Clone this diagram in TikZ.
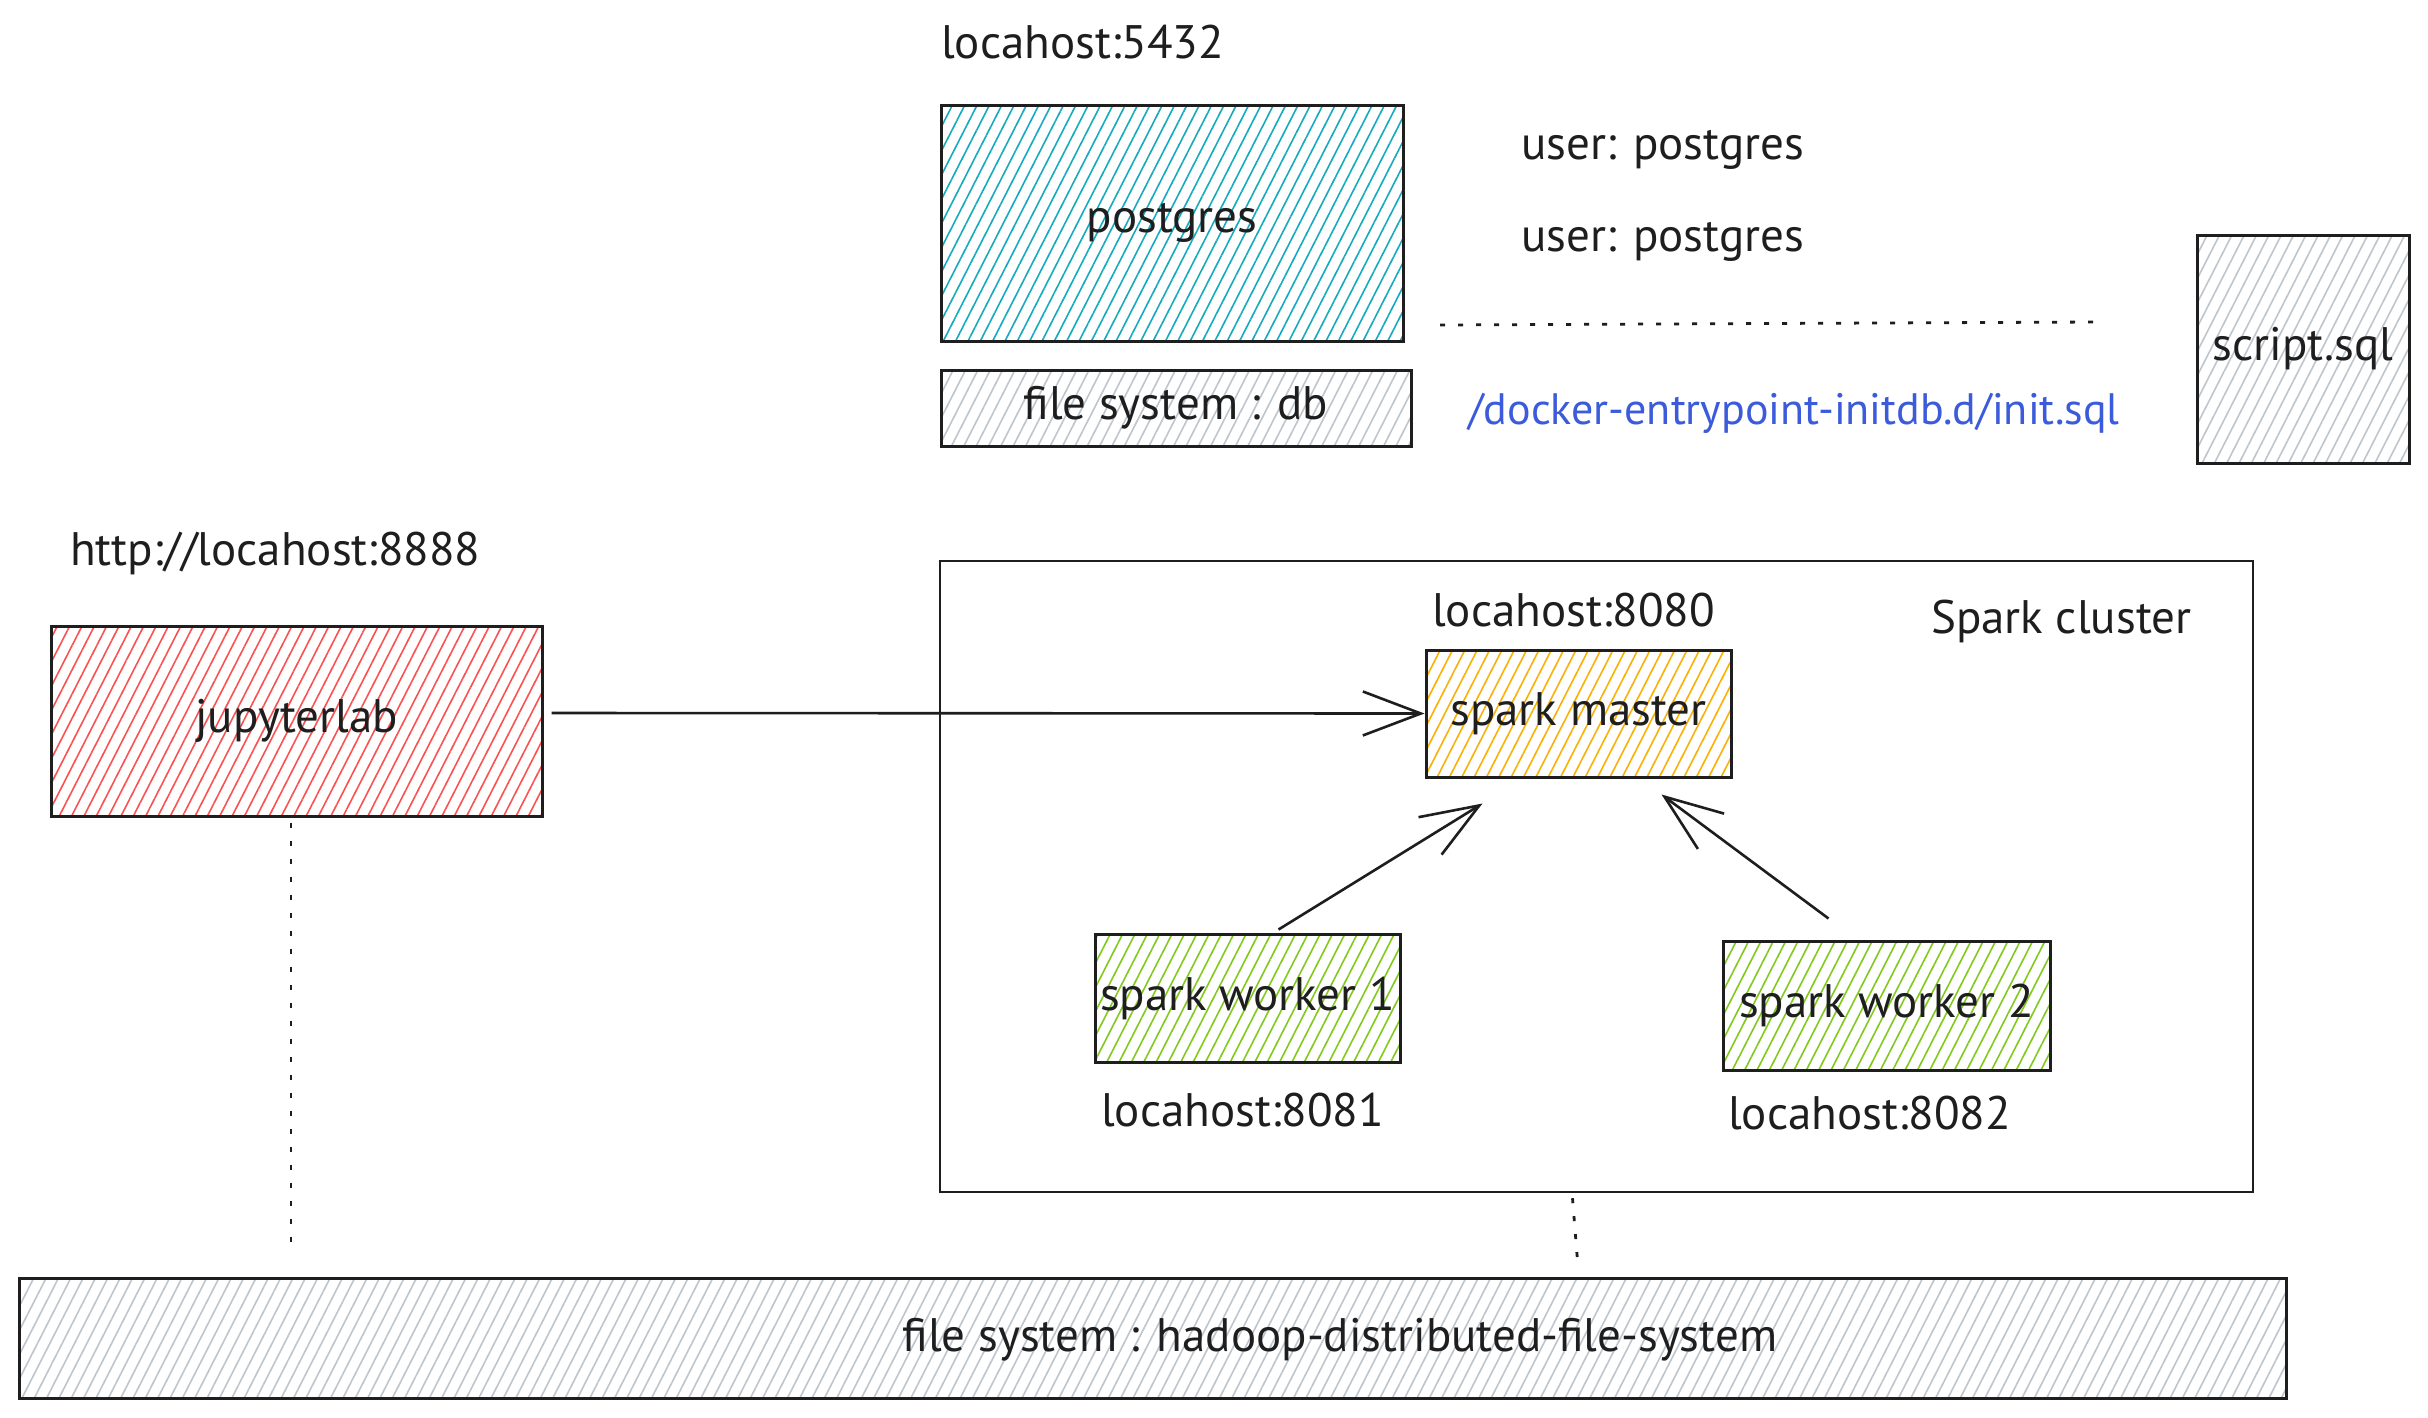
\documentclass[tikz,border=0pt]{standalone}
\usepackage{fontspec}
\setmainfont{PT Sans}
\usetikzlibrary{arrows.meta,patterns.meta}
\definecolor{inkc}{HTML}{1E1E1E}
\definecolor{cyanH}{HTML}{15AABF}
\definecolor{redH}{HTML}{FA5252}
\definecolor{orangeH}{HTML}{FAB005}
\definecolor{greenH}{HTML}{82C91E}
\definecolor{greyH}{HTML}{BFC5CC}
\definecolor{blueT}{HTML}{3B5BDB}
\tikzset{
  hach/.style={pattern={Lines[angle=63,distance=11pt,line width=1.6pt]},pattern color=#1},
  box/.style={draw=inkc,line width=3pt,rectangle,inner sep=0pt,align=center,text=inkc},
  lbl/.style={anchor=west,inner sep=0pt,text=inkc},
  arr/.style={draw=inkc,line width=2.6pt,-{Straight Barb[length=58pt,width=44pt,line width=2.6pt]}},
  dots/.style={draw=inkc,line width=2.8pt,dash pattern=on 5pt off 13pt},
}
\begin{document}
\begin{tikzpicture}[x=1pt,y=-1pt,font=\fontsize{47pt}{52pt}\selectfont]
\useasboundingbox[fill=white] (0,0) rectangle (2428,1417);
% top: postgres
\node[lbl] (l5432) at (941,42) {locahost:5432};
\node[box,hach=cyanH,minimum width=462pt,minimum height=236pt] (pg) at (1172,223) {postgres};
\node[box,hach=greyH,minimum width=470pt,minimum height=76pt] (fsdb) at (1176,408) {file system : db};
\node[lbl] (u1) at (1521,150) {user: postgres};
\node[lbl] (u2) at (1521,242) {user: postgres};
\coordinate (d1a) at (1440,325);
\coordinate (d1b) at (2094,322);
\draw[dots] (d1a) -- (d1b);
\node[lbl,text=blueT,font=\fontsize{44pt}{50pt}\selectfont] (dock) at (1468,413) {/docker-entrypoint-initdb.d/init.sql};
\node[box,hach=greyH,minimum width=212pt,minimum height=228pt] (script) at (2303,349) {script.sql};
% jupyter
\node[lbl] (l8888) at (70,553) {http://locahost:8888};
\node[box,hach=redH,minimum width=491pt,minimum height=190pt] (jup) at (296.5,721) {jupyterlab};
% spark cluster
\node[draw=inkc,line width=2.4pt,rectangle,minimum width=1313pt,minimum height=631pt] (frame) at (1596.5,876.5) {};
\node[lbl] (l8080) at (1432,610) {locahost:8080};
\node[lbl] (clus) at (1931,621) {Spark cluster};
\node[box,hach=orangeH,minimum width=305pt,minimum height=127pt] (master) at (1578.5,713.5) {spark master};
\node[box,hach=greenH,minimum width=305pt,minimum height=128pt] (w1) at (1247.5,998) {spark worker 1};
\node[lbl] (l8081) at (1101,1110) {locahost:8081};
\node[box,hach=greenH,minimum width=327pt,minimum height=129pt] (w2) at (1886.5,1005.5) {spark worker 2};
\node[lbl] (l8082) at (1728,1113) {locahost:8082};
% hdfs
\node[box,hach=greyH,minimum width=2267pt,minimum height=120pt] (hdfs) at (1152.5,1338) {};
\node[inner sep=0pt,text=inkc] (hdfsT) at (1340,1340) {file system : hadoop-distributed-file-system};
% connectors
\draw[arr] ([xshift=8pt,yshift=8pt]jup.east) -- (master.west);
\draw[arr] ([xshift=31pt,yshift=3pt]w1.north) -- ([xshift=-96pt,yshift=-25pt]master.south);
\draw[arr] ([xshift=-58pt,yshift=21pt]w2.north) -- ([xshift=83pt,yshift=-16pt]master.south);
\coordinate (jd) at (291,1251);
\draw[dots] ([yshift=-5pt]jup.south -| jd) -- (jd);
\coordinate (cd) at (1578,1267);
\draw[dots] ([xshift=-24pt,yshift=-5pt]frame.south) -- (cd);
\end{tikzpicture}
\end{document}
